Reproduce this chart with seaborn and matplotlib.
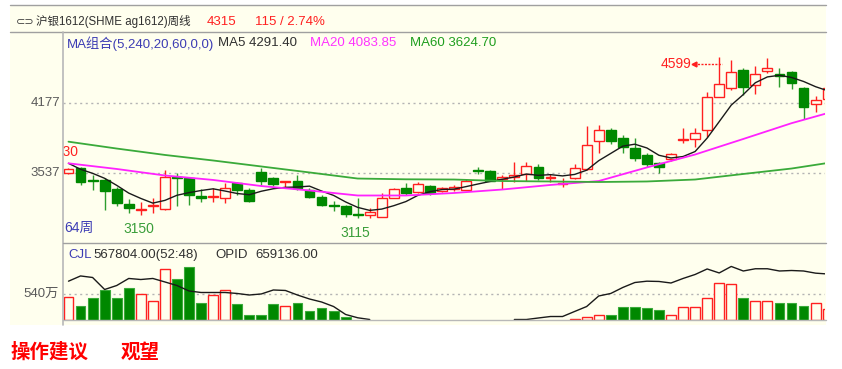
import numpy as np
import pandas as pd
import matplotlib
matplotlib.use('Agg')
import matplotlib.pyplot as plt
import matplotlib.transforms as mtransforms
from matplotlib.patches import Rectangle
from matplotlib.lines import Line2D
import seaborn as sns

# weekly candles of ag1612, 64 weeks shown
opens = [3530, 3577, 3465, 3469, 3383, 3245, 3195, 3232, 3200, 3500,
         3485, 3318, 3310, 3300, 3444, 3377, 3546, 3490, 3450, 3463,
         3377, 3315, 3240, 3230, 3152, 3146, 3131, 3303, 3392, 3361,
         3413, 3370, 3390, 3377, 3560, 3553, 3478, 3500, 3520, 3585,
         3488, 3434, 3488, 3570, 3828, 3928, 3858, 3760, 3699, 3622,
         3662, 3833, 3843, 3929, 4235, 4312, 4481, 4343, 4471, 4441,
         4459, 4312, 4168, 4210]
highs = [3580, 3585, 3515, 3485, 3407, 3290, 3270, 3303, 3565, 3537,
         3500, 3383, 3392, 3438, 3453, 3395, 3577, 3500, 3460, 3515,
         3395, 3330, 3278, 3240, 3300, 3210, 3345, 3392, 3438, 3450,
         3420, 3405, 3420, 3480, 3585, 3560, 3512, 3637, 3630, 3616,
         3520, 3485, 3615, 3965, 3975, 3945, 3883, 3855, 3720, 3637,
         3720, 3944, 3944, 4281, 4599, 4570, 4496, 4517, 4590, 4496,
         4470, 4327, 4241, 4330]
lows = [3525, 3423, 3377, 3195, 3229, 3165, 3150, 3165, 3195, 3225,
        3240, 3269, 3269, 3254, 3331, 3265, 3425, 3415, 3405, 3377,
        3300, 3225, 3186, 3128, 3115, 3120, 3125, 3300, 3331, 3350,
        3335, 3360, 3370, 3375, 3528, 3455, 3390, 3453, 3455, 3469,
        3450, 3407, 3480, 3565, 3720, 3800, 3717, 3640, 3591, 3530,
        3647, 3806, 3775, 3867, 4230, 4297, 4255, 4260, 4450, 4327,
        4303, 4030, 4094, 4180]
closes = [3567, 3450, 3455, 3370, 3255, 3210, 3205, 3240, 3495, 3490,
          3332, 3302, 3318, 3392, 3378, 3275, 3463, 3432, 3458, 3392,
          3315, 3239, 3230, 3157, 3142, 3177, 3300, 3386, 3346, 3429,
          3346, 3398, 3405, 3462, 3550, 3462, 3498, 3510, 3597, 3490,
          3494, 3440, 3578, 3791, 3928, 3828, 3775, 3668, 3617, 3592,
          3705, 3840, 3898, 4235, 4349, 4465, 4327, 4441, 4502, 4425,
          4364, 4143, 4200, 4315]

# volume (万) and open interest (万)
volume = [485, 298, 464, 630, 464, 657, 541, 401, 1061, 853,
          1109, 354, 520, 624, 333, 104, 104, 333, 291, 360,
          194, 250, 194, 54, 0, 0, 0, 0, 0, 0,
          0, 0, 0, 0, 0, 0, 0, 0, 0, 0,
          0, 0, 21, 69, 104, 104, 270, 270, 241, 214,
          104, 270, 270, 458, 770, 741, 464, 401, 401, 360,
          360, 298, 360, 230]
nan = np.nan
open_interest = [55.6, 63.1, 60.9, 43.7, 49.4, 59.5, 58.0, 59.5, 54.5, 49.4,
                 41.6, 39.4, 39.4, 39.4, 38.0, 35.8, 37.3, 43.0, 42.3, 35.8,
                 30.1, 25.8, 19.3, 7.9, 3.2, 0.7, nan, nan, nan, nan,
                 nan, nan, nan, nan, nan, nan, nan, 0.7, 0.7, 2.9,
                 5.0, 5.0, 12.2, 19.3, 34.4, 38.0, 46.6, 53.7, 55.6, 55.2,
                 53.0, 59.5, 65.2, 73.1, 67.4, 76.7, 70.2, 73.4, 73.4, 70.2,
                 70.9, 70.2, 67.1, 65.9]

# moving averages
ma5_head = [3622, 3567, 3530, 3484]
ma_idx = [0, 4, 8, 12, 16, 20, 24, 28, 32, 36, 40, 44, 48, 52, 56, 60, 63]
ma20 = [3622, 3570, 3510, 3469, 3413, 3372, 3326, 3326, 3349, 3381,
        3423, 3459, 3584, 3703, 3846, 3991, 4084]
ma60 = [3821, 3758, 3699, 3648, 3593, 3538, 3482, 3475, 3473, 3459,
        3455, 3450, 3455, 3473, 3524, 3574, 3625]

BG = '#FFFFEE'
RED = '#FF2020'
GREEN = '#008800'
GREEN_WICK = '#2E9E2E'
GRAY = '#A0A0A0'

sns.set_theme(style='white')
plt.rcParams['font.family'] = ['Liberation Sans', 'Noto Sans CJK SC', 'DejaVu Sans']

W, H = 842, 369
fig = plt.figure(figsize=(W / 100, H / 100), dpi=100)
fig.patch.set_facecolor('white')


def fx(x):
    return x / W


def fy(y):
    return 1 - y / H


# yellow panel behind everything
fig.patches.append(Rectangle((fx(10), fy(325)), fx(826) - fx(10), fy(5) - fy(325),
                             transform=fig.transFigure, facecolor=BG, edgecolor='none', zorder=-5))


def hline(y, x0, x1, color=GRAY):
    fig.add_artist(Line2D([fx(x0), fx(x1)], [fy(y), fy(y)], transform=fig.transFigure, color=color, lw=1))


hline(5, 10, 826)
hline(32, 10, 826)
fig.add_artist(Line2D([fx(63), fx(63)], [fy(32), fy(325)], transform=fig.transFigure, color='#B8B8B8', lw=1.2))

ax = fig.add_axes([fx(63), fy(243), fx(825) - fx(63), fy(32) - fy(243)])
axv = fig.add_axes([fx(63), fy(320), fx(825) - fx(63), fy(243) - fy(320)])
for a in (ax, axv):
    a.set_facecolor('none')
    for s in a.spines.values():
        s.set_visible(False)
    a.set_xticks([])
    a.set_yticks([])
    a.set_xlim(-0.456, 62.78)

ax.set_ylim(2889, 4830)
axv.set_ylim(0, 1602)

df = pd.DataFrame({'open': opens, 'high': highs, 'low': lows, 'close': closes,
                   'vol': volume, 'oi': open_interest})
df['i'] = np.arange(len(df))
df['up'] = df['close'] >= df['open']
ma5 = df['close'].rolling(5).mean()
ma5.iloc[:4] = ma5_head
df['ma5'] = ma5

# grid lines
dot = (0, (1.5, 2.5))
for lvl in (4177, 3537):
    ax.axhline(lvl, color='#B4B4B4', ls=dot, lw=1, zorder=1)
axv.axhline(540, color='#B4B4B4', ls=dot, lw=1, zorder=1)

# candles
upd = df[df['up']]
dn = df[~df['up']]
ax.vlines(upd['i'], upd['low'], upd['high'], color=RED, lw=1, zorder=2)
ax.vlines(dn['i'], dn['low'], dn['high'], color=GREEN_WICK, lw=1, zorder=2)
body = (df['close'] - df['open']).abs().clip(lower=9)
bottom = df[['open', 'close']].min(axis=1)
ax.bar(upd['i'], body[upd.index], bottom=bottom[upd.index], width=0.82,
       facecolor=BG, edgecolor=RED, lw=1, zorder=3)
ax.bar(dn['i'], body[dn.index], bottom=bottom[dn.index], width=0.82,
       facecolor=GREEN, edgecolor=GREEN, lw=1, zorder=3)

# moving averages
sns.lineplot(x=df['i'], y=df['ma5'], ax=ax, color='#1A1A1A', lw=1, zorder=4)
sns.lineplot(x=ma_idx, y=ma20, ax=ax, color='#FF22FF', lw=1.3, zorder=4)
sns.lineplot(x=ma_idx, y=ma60, ax=ax, color='#3AAA3A', lw=1.3, zorder=4)
ax.set_xlabel('')
ax.set_ylabel('')

# annotations
imax = int(df['high'].idxmax())
ya = df['high'][imax] - 65
ax.plot([imax - 2.1, imax + 0.25], [ya, ya], color=RED, ls=(0, (1.5, 1)), lw=1, zorder=5)
ax.plot([imax - 2.1], [ya], marker='<', ms=3.5, color=RED, zorder=5)
ax.text(imax - 2.35, ya, f'{df["high"][imax]}', color=RED, fontsize=10,
        ha='right', va='center', zorder=5)
for k in (6, 24):
    ax.text(k - 0.2, df['low'][k] - 132, f'{df["low"][k]}', color='#3A9E3A', fontsize=10,
            ha='center', va='center')
ax.text(0.79, 3729, '3630', color=RED, fontsize=10, ha='right', va='center', clip_on=True)
ax.text(0.002, 0.071, '64周', color='#3C3CB4', fontsize=10, ha='left', va='center',
        transform=ax.transAxes)

# price labels at the left
trans = mtransforms.blended_transform_factory(fig.transFigure, ax.transData)
for lvl in (4177, 3537):
    ax.text(fx(60), lvl, str(lvl), transform=trans, ha='right', va='center',
            color='#5A5A5A', fontsize=9.5)
transv = mtransforms.blended_transform_factory(fig.transFigure, axv.transData)
axv.text(fx(59), 540, '540万', transform=transv, ha='right', va='center',
         color='#5A5A5A', fontsize=9.5)

# volume bars
vup = df[df['up'] & (df['vol'] > 0)]
vdn = df[~df['up'] & (df['vol'] > 0)]
axv.bar(vup['i'], vup['vol'], width=0.82, facecolor=BG, edgecolor=RED, lw=1, zorder=3)
axv.bar(vdn['i'], vdn['vol'], width=0.82, facecolor=GREEN, edgecolor='#3AAA3A', lw=0.8, zorder=3)

axo = axv.twinx()
axo.set_ylim(0, 110.3)
axo.set_xlim(-0.456, 62.78)
axo.set_facecolor('none')
for s in axo.spines.values():
    s.set_visible(False)
left = df[df['i'] <= 25]
right = df[df['i'] >= 37]
sns.lineplot(x=left['i'], y=left['oi'], ax=axo, color='#1A1A1A', lw=1, zorder=4)
sns.lineplot(x=right['i'], y=right['oi'], ax=axo, color='#1A1A1A', lw=1, zorder=4)
axo.set_xticks([])
axo.set_yticks([])
axo.set_xlabel('')
axo.set_ylabel('')

hline(243, 63, 826)
hline(320, 63, 826, '#B8B8B8')

# header texts
fs = 9.5
fig.text(fx(16), fy(21.7), '⊂⊃', color='#404040', fontsize=8, va='center',
         family=['DejaVu Sans'])
fig.text(fx(36), fy(21.7), '沪银1612(SHME ag1612)周线', color='#303030', fontsize=8.3, va='center')
fig.text(fx(207), fy(21.7), '4315', color=RED, fontsize=fs, va='center')
fig.text(fx(255), fy(21.7), '115 / 2.74%', color=RED, fontsize=fs, va='center')
fig.text(fx(67), fy(43.3), 'MA组合(5,240,20,60,0,0)', color='#3C3CB4', fontsize=fs, va='center')
fig.text(fx(218), fy(43.3), 'MA5 4291.40', color='#303030', fontsize=fs, va='center')
fig.text(fx(310), fy(43.3), 'MA20 4083.85', color='#FF33FF', fontsize=fs, va='center')
fig.text(fx(410), fy(43.3), 'MA60 3624.70', color='#1E9E1E', fontsize=fs, va='center')

fig.text(fx(68), fy(255), 'CJL', color='#3C3CB4', fontsize=fs, va='center')
fig.text(fx(93), fy(255), '567804.00(52:48)', color='#303030', fontsize=fs, va='center')
fig.text(fx(215), fy(255), 'OPID', color='#303030', fontsize=fs, va='center')
fig.text(fx(255), fy(255), '659136.00', color='#303030', fontsize=fs, va='center')

fig.text(fx(11), fy(352), '操作建议', color='#FF0000', fontsize=14, fontweight='bold',
         va='center', family=['Noto Sans CJK SC'])
fig.text(fx(121), fy(352), '观望', color='#FF0000', fontsize=14, fontweight='bold',
         va='center', family=['Noto Sans CJK SC'])

fig.savefig('out.png', dpi=100)
